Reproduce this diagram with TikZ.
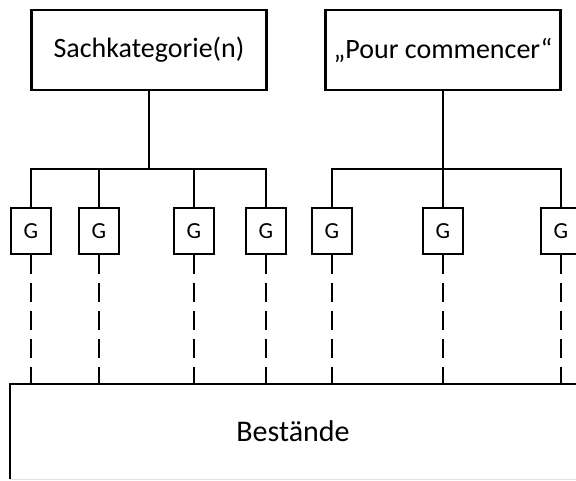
\documentclass[tikz,border=0pt]{standalone}
\usepackage{fontspec}
\setmainfont{Carlito}
\begin{document}
\begin{tikzpicture}[x=1pt,y=-1pt,line width=2.2pt,
  bigbox/.style={draw,line width=2.2pt,minimum width=235pt,minimum height=80pt,inner sep=0pt,font=\fontsize{28}{32}\selectfont},
  gbox/.style={draw,line width=2.2pt,minimum width=40pt,minimum height=46pt,inner sep=0pt,font=\fontsize{23}{26}\selectfont},
  dashline/.style={line width=2.2pt,dash pattern=on 19pt off 9pt}]
\clip (0,0) rectangle (576,480);
\fill[white] (0,0) rectangle (576,480);
\node[bigbox] (sach) at (149,50) {Sachkategorie(n)};
\node[bigbox] (pour) at (443,50) {„Pour commencer“};
\coordinate (busL) at (149,169);
\coordinate (busR) at (443,169);
\node[gbox] (g1) at (31,231) {G};
\node[gbox] (g2) at (99,231) {G};
\node[gbox] (g3) at (194,231) {G};
\node[gbox] (g4) at (266,231) {G};
\node[gbox] (g5) at (332,231) {G};
\node[gbox] (g6) at (443,231) {G};
\node[gbox] (g7) at (561,231) {G};
\node[minimum width=564pt,minimum height=93pt,inner sep=0pt,font=\fontsize{30}{34}\selectfont] (best) at (293,431.5) {Bestände};
\draw[gray!25,line width=1pt] (best.north east) -- (best.south east) -- (best.south west);
\draw (best.south west) -- (best.north west) -- (best.north east);
\draw (sach.south) -- (busL);
\draw (pour.south) -- (busR);
\draw (g1.north) |- (busL) -| (g4.north);
\draw (g2.north) |- (busL);
\draw (g3.north) |- (busL);
\draw (g5.north) |- (busR) -| (g7.north);
\draw (g6.north) -- (busR);
\foreach \g in {g1,g2,g3,g4,g5,g6,g7}
  \draw[dashline] (\g.south) -- (\g.south |- best.north);
\end{tikzpicture}
\end{document}
